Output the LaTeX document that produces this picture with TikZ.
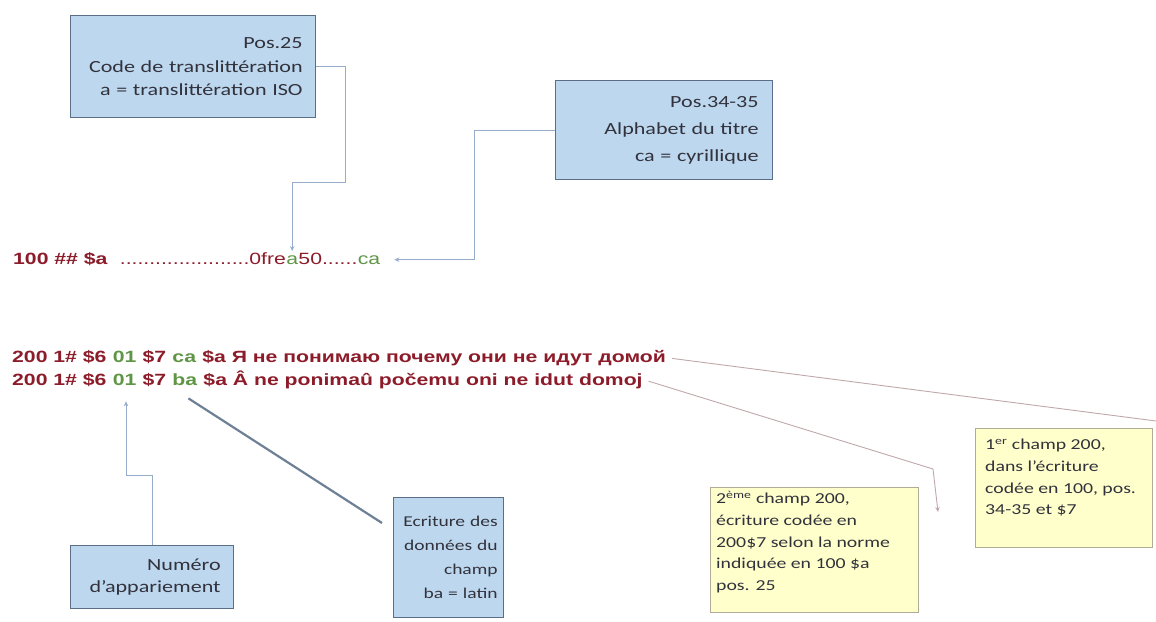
\documentclass[tikz,border=0pt]{standalone}
\usepackage{fontspec}
\usetikzlibrary{arrows.meta, calc}
\newfontfamily\boxfont[FakeStretch=1.3]{Carlito}
\newfontfamily\recfont[FakeStretch=1.3]{Liberation Sans}
\definecolor{boxblue}{RGB}{189,215,238}
\definecolor{boxline}{RGB}{90,110,135}
\definecolor{noteyellow}{RGB}{255,255,204}
\definecolor{noteline}{RGB}{178,172,150}
\definecolor{recred}{RGB}{140,28,42}
\definecolor{codegreen}{RGB}{95,150,70}
\definecolor{linkblue}{RGB}{150,172,202}
\definecolor{linkrose}{RGB}{192,168,170}
\definecolor{pointer}{RGB}{110,128,150}
\definecolor{boxtext}{RGB}{50,50,60}

\begin{document}
\begin{tikzpicture}[x=1pt, y=-1pt,
    infobox/.style={draw=boxline, line width=1.3pt, fill=boxblue, text=boxtext,
      inner sep=0pt, anchor=north west, align=right},
    notebox/.style={draw=noteline, line width=1pt, fill=noteyellow, inner sep=0pt, anchor=north west},
    notetext/.style={text=boxtext, inner sep=0pt, anchor=north west, align=left,
      font=\boxfont\fontsize{15.2}{21.7}\selectfont},
    rectag/.style={inner sep=0pt, anchor=base west, text=recred,
      font=\recfont\fontsize{16.3}{20}\selectfont\bfseries},
    recplain/.style={rectag, font=\recfont\fontsize{16.3}{20}\selectfont},
    recgreen/.style={rectag, text=codegreen},
    recgreenplain/.style={recplain, text=codegreen},
    bluelink/.style={draw=linkblue, line width=0.9pt},
    roselink/.style={draw=linkrose, line width=0.9pt},
    pointerline/.style={draw=pointer, line width=2.2pt},
    linktip/.style={-{Stealth[length=5pt, width=4.5pt]}},
  ]
  \useasboundingbox (0,0) rectangle (1156,621);

  % Explanation boxes (blue)
  \node[infobox, minimum width=245pt, minimum height=102pt, text width=219pt,
    font=\boxfont\fontsize{17}{23.5}\selectfont] (pos25) at (70,15)
    {Pos.25\\Code de translittération\\a = translittération ISO};
  \node[infobox, minimum width=217pt, minimum height=99pt, text width=189pt,
    font=\boxfont\fontsize{17}{27}\selectfont] (alpha) at (555,80)
    {Pos.34-35\\Alphabet du titre\\ca = cyrillique};
  \node[infobox, minimum width=163pt, minimum height=63pt, text width=137pt,
    font=\boxfont\fontsize{17}{22}\selectfont] (numero) at (70,545)
    {Numéro\\d’appariement};
  \node[infobox, minimum width=110pt, minimum height=120pt, text width=98pt,
    font=\boxfont\fontsize{15}{24}\selectfont] (ecriture) at (393,497)
    {Ecriture des\\données du\\champ\\ba = latin};

  % Notes (yellow)
  \node[notebox, minimum width=208pt, minimum height=125pt] (champ2) at (710,487) {};
  \node[notetext] (champ2text) at (716,491)
    {2\textsuperscript{ème} champ 200,\\écriture codée en\\200\$7 selon la norme\\indiquée en 100 \$a\\pos. 25};
  \node[notebox, minimum width=177pt, minimum height=119pt] (champ1) at (975,428) {};
  \node[notetext] (champ1text) at (985,439)
    {1\textsuperscript{er} champ 200,\\dans l’écriture\\codée en 100, pos.\\34-35 et \$7};

  % Field 100
  \node[rectag] (tag100) at (13,264) {100 \#\# \$a};
  \node[recplain] (dots100) at ([xshift=12pt]tag100.base east) {......................0fre};
  \node[recgreenplain] (code25) at (dots100.base east) {a};
  \node[recplain] (fill100) at (code25.base east) {50......};
  \node[recgreenplain] (ca100) at (fill100.base east) {ca};

  % Field 200, Cyrillic
  \node[rectag] (tag200a) at (12,362) {200 1\# \$6};
  \node[recgreen] (ind200a) at (tag200a.base east) {\ 01};
  \node[rectag] (sub200a) at (ind200a.base east) {\ \$7};
  \node[recgreen] (ca200a) at (sub200a.base east) {\ ca};
  \node[rectag] (txt200a) at (ca200a.base east) {\ \$a Я не понимаю почему они не идут домой};

  % Field 200, Latin
  \node[rectag] (tag200b) at (12,385) {200 1\# \$6};
  \node[recgreen] (ind200b) at (tag200b.base east) {\ 01};
  \node[rectag] (sub200b) at (ind200b.base east) {\ \$7};
  \node[recgreen] (ba200b) at (sub200b.base east) {\ ba};
  \node[rectag] (txt200b) at (ba200b.base east) {\ \$a Â ne ponimaû počemu oni ne idut domoj};

  % Connectors
  \coordinate (k1) at (345,182);
  \draw[bluelink, linktip, shorten >=4pt] (pos25.east) -| (k1) -| (code25.north);
  \coordinate (k2) at ([xshift=94pt]ca100.east);
  \draw[bluelink, linktip, shorten >=14pt] (alpha.west) -| (k2) -- (ca100.east);
  \coordinate (k3) at (126,475);
  \draw[bluelink, linktip, shorten >=16pt] (numero.north) |- (k3) -- (k3 |- ind200b.south);
  \draw[pointerline] ([xshift=-9pt, yshift=-13pt]ba200b.south east)
    -- ([xshift=-11pt, yshift=-26pt]ecriture.north west);
  \coordinate (edge1) at (1156,421);
  \draw[roselink, shorten <=6pt] (txt200a.east) -- (edge1);
  \coordinate (k6) at (933,469);
  \coordinate (k7) at (938,512);
  \draw[roselink, linktip, shorten <=6pt] (txt200b.east) -- (k6) -- (k7);
\end{tikzpicture}
\end{document}
